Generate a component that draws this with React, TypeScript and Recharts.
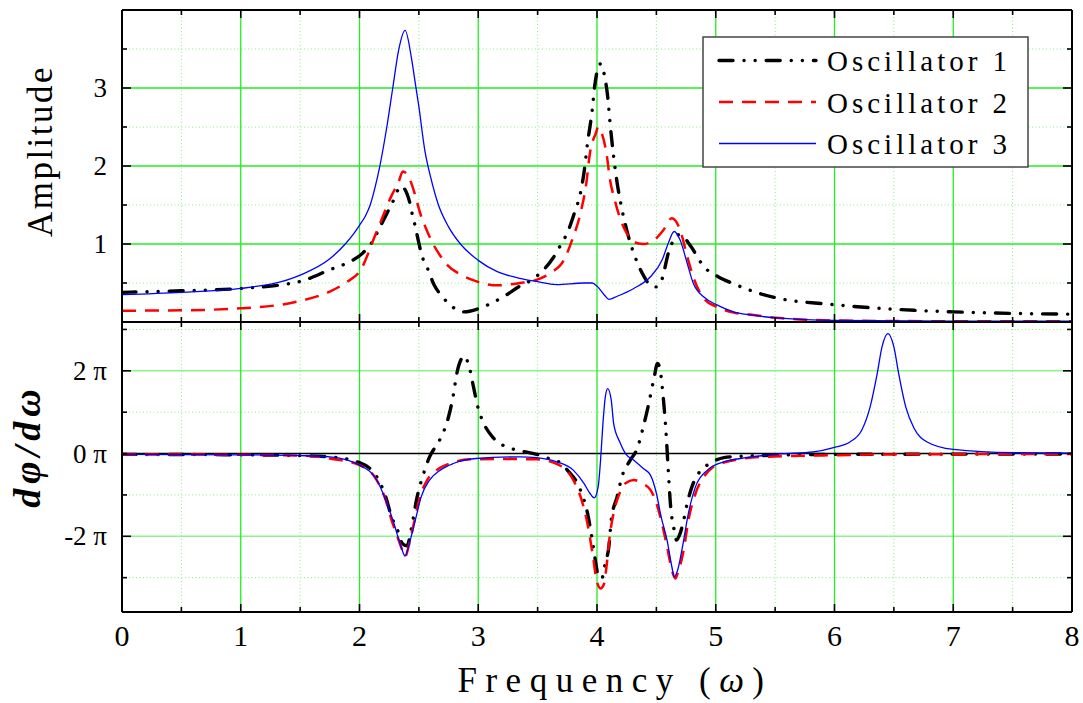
import { LineChart, Line, XAxis, YAxis, CartesianGrid, ReferenceLine, Legend } from 'recharts'

// shared frequency axis
const xTicks = [0, 0.5, 1, 1.5, 2, 2.5, 3, 3.5, 4, 4.5, 5, 5.5, 6, 6.5, 7, 7.5, 8]
const xMajor = [1, 2, 3, 4, 5, 6, 7]
const xMinor = [0.5, 1.5, 2.5, 3.5, 4.5, 5.5, 6.5, 7.5]

// amplitude panel
const ampTicks = [0.5, 1, 1.5, 2, 2.5, 3, 3.5]
const ampLabels = [1, 2, 3]
const ampMinor = [0.5, 1.5, 2.5, 3.5]

// phase derivative panel, in units of pi
const phaseTicks = [-3, -2, -1, 0, 1, 2, 3]
const phaseLabels = [-2, 0, 2]
const phaseMajor = [-2, 2]
const phaseMinor = [-3, -1, 1, 3]

const seriesNames = ['Oscillator 1', 'Oscillator 2', 'Oscillator 3']

const amp1: [number, number][] = [
  [0, 0.38], [0.5, 0.4], [1, 0.43], [1.5, 0.52], [1.75, 0.67], [1.9, 0.76], [2.025, 0.88], [2.1, 1.01],
  [2.19, 1.27], [2.24, 1.42], [2.28, 1.54], [2.35, 1.74], [2.42, 1.55], [2.44, 1.41], [2.47, 1.22],
  [2.5, 1.01], [2.52, 0.88], [2.575, 0.68], [2.63, 0.47], [2.69, 0.34], [2.83, 0.15], [2.88, 0.13],
  [3.0, 0.17], [3.11, 0.24], [3.24, 0.35], [3.35, 0.46], [3.45, 0.54], [3.55, 0.67], [3.63, 0.82],
  [3.68, 0.95], [3.76, 1.18], [3.81, 1.4], [3.86, 1.65], [3.89, 1.91], [3.92, 2.29], [3.96, 2.72],
  [3.98, 3.02], [4.03, 3.31], [4.07, 3.1], [4.09, 2.89], [4.11, 2.55], [4.14, 2.12], [4.17, 1.78],
  [4.2, 1.52], [4.25, 1.18], [4.31, 0.88], [4.39, 0.6], [4.46, 0.46], [4.5, 0.45], [4.55, 0.56],
  [4.6, 0.88], [4.645, 1.05], [4.69, 1.12], [4.73, 1.09], [4.79, 0.97], [4.9, 0.71], [5.02, 0.58],
  [5.15, 0.49], [5.32, 0.39], [5.54, 0.3], [5.94, 0.23], [6.16, 0.2], [6.67, 0.15], [7.0, 0.13],
  [7.5, 0.11], [8.0, 0.1],
]

const amp2: [number, number][] = [
  [0, 0.145], [0.5, 0.15], [1, 0.175], [1.5, 0.27], [1.75, 0.39], [1.9, 0.52], [2.0, 0.645],
  [2.145, 1.16], [2.27, 1.62], [2.33, 1.8], [2.365, 1.93], [2.42, 1.84], [2.47, 1.62], [2.51, 1.4],
  [2.56, 1.2], [2.62, 1.0], [2.68, 0.85], [2.74, 0.73], [2.85, 0.61], [2.95, 0.54], [3.16, 0.47],
  [3.35, 0.5], [3.49, 0.54], [3.61, 0.63], [3.72, 0.79], [3.79, 1.05], [3.86, 1.39], [3.91, 1.78],
  [3.94, 2.16], [3.99, 2.42], [4.01, 2.5], [4.04, 2.42], [4.08, 2.16], [4.11, 1.82], [4.15, 1.56],
  [4.19, 1.35], [4.25, 1.14], [4.34, 1.01], [4.39, 1.0], [4.48, 1.05], [4.56, 1.18], [4.63, 1.33],
  [4.7, 1.18], [4.76, 0.84], [4.81, 0.58], [4.9, 0.3], [5.0, 0.2], [5.15, 0.12], [5.26, 0.1],
  [5.54, 0.05], [6.0, 0.02], [7.0, 0.01], [8.0, 0.01],
]

const amp3: [number, number][] = [
  [0, 0.35], [0.5, 0.38], [1, 0.43], [1.5, 0.6], [1.75, 0.81], [1.88, 1.0], [1.95, 1.13], [2.0, 1.24],
  [2.05, 1.36], [2.09, 1.5], [2.13, 1.72], [2.17, 1.99], [2.23, 2.5], [2.28, 3.0], [2.33, 3.49],
  [2.384, 3.74], [2.44, 3.36], [2.47, 3.06], [2.5, 2.76], [2.55, 2.2], [2.6, 1.85], [2.665, 1.5],
  [2.75, 1.22], [2.85, 1.0], [3.0, 0.79], [3.16, 0.645], [3.35, 0.56], [3.49, 0.52], [3.66, 0.48],
  [3.89, 0.5], [3.96, 0.5], [4.0, 0.46], [4.06, 0.35], [4.1, 0.29], [4.17, 0.33], [4.31, 0.43],
  [4.45, 0.58], [4.55, 0.8], [4.6, 1.01], [4.65, 1.16], [4.7, 1.05], [4.76, 0.75], [4.81, 0.5],
  [4.9, 0.32], [5.01, 0.22], [5.15, 0.13], [5.29, 0.09], [5.54, 0.05], [6.0, 0.02], [7.0, 0.01],
  [8.0, 0.01],
]

const phase1: [number, number][] = [
  [0, -0.02], [1, -0.03], [1.5, -0.05], [1.75, -0.08], [2.0, -0.22], [2.145, -0.56], [2.22, -1.04],
  [2.27, -1.53], [2.32, -1.85], [2.36, -2.17], [2.4, -2.23], [2.44, -1.77], [2.48, -1.12], [2.54, -0.48],
  [2.59, -0.08], [2.65, 0.21], [2.69, 0.41], [2.75, 0.89], [2.79, 1.41], [2.82, 1.94], [2.86, 2.3],
  [2.875, 2.36], [2.92, 2.14], [2.96, 1.61], [3.0, 1.09], [3.04, 0.77], [3.13, 0.37], [3.27, 0.13],
  [3.35, 0.07], [3.52, -0.04], [3.63, -0.16], [3.69, -0.22], [3.75, -0.4], [3.86, -0.88], [3.92, -1.44],
  [3.96, -2.09], [3.99, -2.65], [4.013, -2.98], [4.04, -3.02], [4.07, -2.65], [4.1, -2.25], [4.12, -1.61],
  [4.17, -1.04], [4.21, -0.56], [4.28, -0.16], [4.34, 0.13], [4.39, 0.65], [4.43, 1.13], [4.48, 1.82],
  [4.51, 2.18], [4.54, 1.86], [4.56, 1.29], [4.58, 0.57], [4.6, -0.4], [4.62, -1.28], [4.65, -1.85],
  [4.67, -2.09], [4.7, -1.93], [4.73, -1.61], [4.76, -1.2], [4.8, -0.8], [4.855, -0.48], [4.95, -0.24],
  [5.07, -0.1], [5.25, -0.06], [6, -0.02], [8, -0.01],
]

const phase2: [number, number][] = [
  [0, -0.02], [1, -0.03], [1.5, -0.05], [1.75, -0.12], [2.0, -0.28], [2.145, -0.64], [2.22, -1.12],
  [2.27, -1.61], [2.32, -2.01], [2.36, -2.33], [2.384, -2.49], [2.42, -2.17], [2.47, -1.53], [2.51, -1.04],
  [2.57, -0.64], [2.65, -0.4], [2.76, -0.24], [2.93, -0.14], [3.21, -0.13], [3.49, -0.14], [3.66, -0.25],
  [3.8, -0.64], [3.87, -1.12], [3.93, -1.85], [3.97, -2.57], [3.996, -3.06], [4.03, -3.26], [4.06, -3.14],
  [4.08, -2.73], [4.11, -1.93], [4.14, -1.44], [4.19, -0.96], [4.24, -0.72], [4.31, -0.64], [4.38, -0.72],
  [4.45, -0.88], [4.5, -1.2], [4.54, -1.61], [4.59, -2.25], [4.63, -2.81], [4.66, -3.02], [4.68, -2.89],
  [4.73, -2.33], [4.77, -1.61], [4.83, -0.96], [4.9, -0.56], [4.98, -0.32], [5.09, -0.2], [5.4, -0.08],
  [5.82, -0.05], [6.5, -0.02], [8, -0.01],
]

const phase3: [number, number][] = [
  [0, -0.02], [1, -0.03], [1.5, -0.05], [1.75, -0.08], [2.0, -0.28], [2.145, -0.64], [2.22, -1.12],
  [2.29, -1.69], [2.35, -2.25], [2.384, -2.48], [2.42, -2.17], [2.47, -1.61], [2.52, -1.04], [2.59, -0.64],
  [2.68, -0.4], [2.79, -0.24], [2.98, -0.12], [3.35, -0.08], [3.49, -0.1], [3.66, -0.2], [3.8, -0.4],
  [3.89, -0.72], [3.94, -0.96], [3.977, -1.07], [4.01, -0.8], [4.03, -0.16], [4.05, 0.73], [4.07, 1.37],
  [4.09, 1.57], [4.12, 1.29], [4.14, 0.73], [4.19, 0.29], [4.24, 0.0], [4.31, -0.16], [4.39, -0.36],
  [4.45, -0.52], [4.5, -0.96], [4.54, -1.53], [4.59, -2.09], [4.63, -2.73], [4.65, -2.98], [4.68, -2.81],
  [4.72, -2.25], [4.77, -1.44], [4.83, -0.8], [4.93, -0.4], [5.07, -0.2], [5.26, -0.1], [5.54, -0.01],
  [5.82, 0.04], [6.0, 0.15], [6.13, 0.28], [6.23, 0.57], [6.3, 1.13], [6.36, 1.94], [6.4, 2.58],
  [6.45, 2.9], [6.5, 2.58], [6.54, 1.94], [6.6, 1.13], [6.67, 0.61], [6.78, 0.28], [7.0, 0.1],
  [7.51, 0.02], [8, 0.01],
]

const toRows = (pts: [number, number][]) => pts.map(([x, y]) => ({ x, y }))
const ampData = [amp1, amp2, amp3].map(toRows)
const phaseData = [phase1, phase2, phase3].map(toRows)

const styles = [
  { color: '#000000', width: 3.4, dash: '14 11 0.1 11 0.1 11', cap: 'round' as const },
  { color: '#ff0000', width: 2.5, dash: '14 9', cap: 'butt' as const },
  { color: '#0000ff', width: 1.3, dash: undefined, cap: 'butt' as const },
]

const FONT = '"Liberation Serif", "Times New Roman", serif'
const frame = { stroke: '#000', strokeWidth: 2 }
const tickStroke = { stroke: '#000', strokeWidth: 1.6 }
const MAJOR = 8
const MINOR = 5
const minorGrid = { stroke: '#8ee88e', strokeDasharray: '1 2.5', strokeWidth: 1 }

// ticks point into the plot; dir is +1 (down/right) or -1 (up/left)
const xTick = (dir: number, withLabel: boolean) => (p: any) => {
  const v = p.payload.value
  const major = Number.isInteger(v)
  return (
    <g>
      <line x1={p.x} x2={p.x} y1={p.y} y2={p.y + dir * (major ? MAJOR : MINOR)} {...tickStroke} />
      {withLabel && major && (
        <text x={p.x} y={p.y + 34} textAnchor="middle" fontSize={30} fontFamily={FONT} fill="#000">
          {v}
        </text>
      )}
    </g>
  )
}

const yTick = (dir: number, labels: number[], fmt: (v: number) => string, majors: number[]) => (p: any) => {
  const v = p.payload.value
  const major = majors.includes(v)
  return (
    <g>
      <line x1={p.x} x2={p.x + dir * (major ? MAJOR + 1 : MINOR)} y1={p.y} y2={p.y} {...tickStroke} />
      {labels.includes(v) && (
        <text x={p.x - 15} y={p.y + 9} textAnchor="end" fontSize={27} fontFamily={FONT} fill="#000">
          {fmt(v)}
        </text>
      )}
    </g>
  )
}

const renderLegend = () => (
  <svg width={327} height={132} style={{ display: 'block' }}>
    <rect x={1} y={1} width={325} height={130} fill="#fff" stroke="#444" strokeWidth={1.5} />
    {seriesNames.map((name, i) => (
      <g key={name}>
        <line
          x1={17}
          x2={114}
          y1={24.5 + i * 41.5}
          y2={24.5 + i * 41.5}
          stroke={styles[i].color}
          strokeWidth={styles[i].width}
          strokeDasharray={styles[i].dash}
          strokeLinecap={styles[i].cap}
        />
        <text x={125} y={35 + i * 41.5} fontSize={29} fontFamily={FONT} fill="#000" style={{ letterSpacing: '4px' }}>
          {name}
        </text>
      </g>
    ))}
  </svg>
)

function TopPanel() {
  return (
    <LineChart width={1083} height={340} margin={{ top: 9, right: 10, bottom: 17, left: 121 }}>
      <CartesianGrid horizontalValues={ampMinor} verticalValues={xMinor} {...minorGrid} />
      <CartesianGrid horizontalValues={ampLabels} verticalValues={xMajor} stroke="#22ee22" strokeWidth={1.3} />
      <XAxis
        dataKey="x"
        type="number"
        domain={[0, 8]}
        ticks={xTicks}
        interval={0}
        height={1}
        tickSize={0}
        tickMargin={0}
        tickLine={false}
        axisLine={frame}
        tick={xTick(-1, false)}
        allowDataOverflow
      />
      <XAxis
        xAxisId="top"
        orientation="top"
        dataKey="x"
        type="number"
        domain={[0, 8]}
        ticks={xTicks}
        interval={0}
        height={1}
        tickSize={0}
        tickMargin={0}
        tickLine={false}
        axisLine={frame}
        tick={xTick(1, false)}
        allowDataOverflow
      />
      <YAxis
        type="number"
        domain={[0, 4]}
        ticks={ampTicks}
        interval={0}
        width={1}
        tickSize={0}
        tickMargin={0}
        tickLine={false}
        axisLine={frame}
        tick={yTick(1, ampLabels, (v) => String(v), ampLabels)}
        allowDataOverflow
      />
      <YAxis
        yAxisId="right"
        orientation="right"
        type="number"
        domain={[0, 4]}
        ticks={ampTicks}
        interval={0}
        width={1}
        tickSize={0}
        tickMargin={0}
        tickLine={false}
        axisLine={frame}
        tick={yTick(-1, [], () => '', ampLabels)}
        allowDataOverflow
      />
      {ampData.map((rows, i) => (
        <Line
          key={seriesNames[i]}
          data={rows}
          dataKey="y"
          name={seriesNames[i]}
          type="monotone"
          stroke={styles[i].color}
          strokeWidth={styles[i].width}
          strokeDasharray={styles[i].dash}
          strokeLinecap={styles[i].cap}
          dot={false}
          activeDot={false}
          isAnimationActive={false}
        />
      ))}
      <Legend
        layout="horizontal"
        verticalAlign="middle"
        align="center"
        content={renderLegend}
        wrapperStyle={{ left: 702, top: 36, width: 327, height: 132 }}
      />
    </LineChart>
  )
}

function BottomPanel() {
  return (
    <LineChart width={1083} height={391} margin={{ top: 9, right: 10, bottom: 90, left: 121 }}>
      <CartesianGrid horizontalValues={phaseMinor} verticalValues={xMinor} {...minorGrid} />
      <CartesianGrid horizontalValues={phaseMajor} vertical={false} stroke="#8af58a" strokeWidth={1.6} />
      <CartesianGrid horizontal={false} verticalValues={xMajor} stroke="#22ee22" strokeWidth={1.3} />
      <ReferenceLine y={0} stroke="#000" strokeWidth={1.5} />
      <XAxis
        dataKey="x"
        type="number"
        domain={[0, 8]}
        ticks={xTicks}
        interval={0}
        height={1}
        tickSize={0}
        tickMargin={0}
        tickLine={false}
        axisLine={frame}
        tick={xTick(-1, true)}
        allowDataOverflow
      />
      <XAxis
        xAxisId="top"
        orientation="top"
        dataKey="x"
        type="number"
        domain={[0, 8]}
        ticks={xTicks}
        interval={0}
        height={1}
        tickSize={0}
        tickMargin={0}
        tickLine={false}
        axisLine={frame}
        tick={xTick(1, false)}
        allowDataOverflow
      />
      <YAxis
        type="number"
        domain={[-3.83, 3.18]}
        ticks={phaseTicks}
        interval={0}
        width={1}
        tickSize={0}
        tickMargin={0}
        tickLine={false}
        axisLine={frame}
        tick={yTick(1, phaseLabels, (v) => `${v} π`, phaseMajor)}
        allowDataOverflow
      />
      <YAxis
        yAxisId="right"
        orientation="right"
        type="number"
        domain={[-3.83, 3.18]}
        ticks={phaseTicks}
        interval={0}
        width={1}
        tickSize={0}
        tickMargin={0}
        tickLine={false}
        axisLine={frame}
        tick={yTick(-1, [], () => '', phaseMajor)}
        allowDataOverflow
      />
      {phaseData.map((rows, i) => (
        <Line
          key={seriesNames[i]}
          data={rows}
          dataKey="y"
          name={seriesNames[i]}
          type="monotone"
          stroke={styles[i].color}
          strokeWidth={styles[i].width}
          strokeDasharray={styles[i].dash}
          strokeLinecap={styles[i].cap}
          dot={false}
          activeDot={false}
          isAnimationActive={false}
        />
      ))}
    </LineChart>
  )
}

export default function App() {
  return (
    <div style={{ position: 'absolute', left: 0, top: 0, width: 1083, height: 703, background: '#fff' }}>
      <div style={{ position: 'absolute', left: 0, top: 0 }}>
        <TopPanel />
      </div>
      <div style={{ position: 'absolute', left: 0, top: 312 }}>
        <BottomPanel />
      </div>
      <svg width={1083} height={703} style={{ position: 'absolute', left: 0, top: 0, pointerEvents: 'none' }}>
        <text
          x={52}
          y={151}
          transform="rotate(-90 52 151)"
          textAnchor="middle"
          fontSize={35}
          fontFamily={FONT}
          fill="#000"
          style={{ letterSpacing: '2.5px' }}
        >
          Amplitude
        </text>
        <text
          x={40}
          y={446}
          transform="rotate(-90 40 446)"
          textAnchor="middle"
          fontSize={38}
          fontFamily={FONT}
          fontStyle="italic"
          fontWeight="bold"
          fill="#000"
          style={{ letterSpacing: '5px' }}
        >
          dφ/dω
        </text>
        <text x={615} y={692} textAnchor="middle" fontSize={35} fontFamily={FONT} fill="#000" style={{ letterSpacing: '8.5px' }}>
          Frequency (<tspan fontStyle="italic">ω</tspan>)
        </text>
      </svg>
    </div>
  )
}
